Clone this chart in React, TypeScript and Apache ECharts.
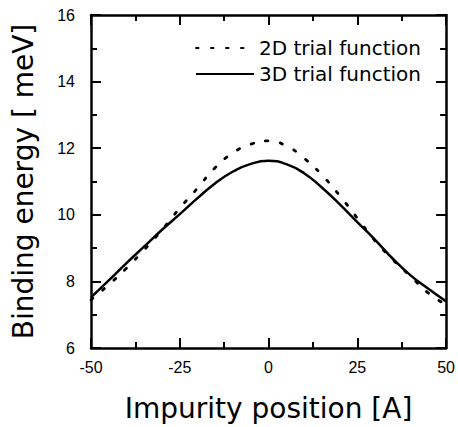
import React, { useEffect, useRef } from "react";
import * as echarts from "echarts";

const positions = [-50, -45, -40, -35, -30, -25, -20, -15, -10, -5, 0, 5, 10, 15, 20, 25, 30, 35, 40, 45, 50];
const trial2D = [7.45, 7.9, 8.4, 8.95, 9.55, 10.2, 10.8, 11.42, 11.86, 12.12, 12.22, 12.07, 11.7, 11.2, 10.58, 9.9, 9.22, 8.65, 8.15, 7.65, 7.3];
const trial3D = [7.52, 8.03, 8.55, 9.05, 9.55, 10.02, 10.5, 10.95, 11.3, 11.53, 11.62, 11.52, 11.25, 10.82, 10.32, 9.78, 9.25, 8.68, 8.18, 7.78, 7.4];
const seriesNames = ["2D trial function", "3D trial function"];
const xTitle = "Impurity position [A]";
const yTitle = "Binding energy [ meV]";

export default function App() {
  const ref = useRef<HTMLDivElement>(null);
  useEffect(() => {
    if (!ref.current) return;
    const chart = echarts.init(ref.current, undefined, { renderer: "svg" });
    const axisLine = { show: true, onZero: false, lineStyle: { color: "#000", width: 2.5 } };
    const tick = { show: true, inside: true, length: 10, lineStyle: { color: "#000", width: 2 } };
    const minorTick = { show: true, splitNumber: 2, length: 6, lineStyle: { color: "#000", width: 2 } };
    const label = { color: "#000", fontFamily: "Liberation Sans", fontSize: 16 };
    chart.setOption({
      animation: false,
      backgroundColor: "#fff",
      grid: { left: 91, top: 15, right: 9, bottom: 75 },
      legend: {
        orient: "vertical",
        left: 190,
        top: 33,
        align: "left",
        itemWidth: 58,
        itemHeight: 14,
        itemGap: 6,
        itemStyle: { opacity: 0 },
        textStyle: { color: "#000", fontFamily: "DejaVu Sans", fontSize: 20 },
        data: seriesNames,
      },
      xAxis: [
        {
          type: "value",
          min: -50,
          max: 50,
          interval: 25,
          position: "bottom",
          axisLine,
          axisTick: tick,
          minorTick,
          splitLine: { show: false },
          axisLabel: { ...label, margin: 11 },
          name: xTitle,
          nameLocation: "middle",
          nameGap: 46,
          nameTextStyle: { color: "#000", fontFamily: "DejaVu Sans", fontSize: 28 },
        },
        {
          type: "value",
          min: -50,
          max: 50,
          interval: 25,
          position: "top",
          axisLine,
          axisTick: tick,
          minorTick,
          splitLine: { show: false },
          axisLabel: { show: false },
        },
      ],
      yAxis: [
        {
          type: "value",
          min: 6,
          max: 16,
          interval: 2,
          position: "left",
          axisLine,
          axisTick: tick,
          minorTick,
          splitLine: { show: false },
          axisLabel: { ...label, margin: 16 },
          name: yTitle,
          nameLocation: "middle",
          nameGap: 54,
          nameTextStyle: { color: "#000", fontFamily: "DejaVu Sans", fontSize: 28 },
        },
        {
          type: "value",
          min: 6,
          max: 16,
          interval: 2,
          position: "right",
          axisLine,
          axisTick: tick,
          minorTick,
          splitLine: { show: false },
          axisLabel: { show: false },
        },
      ],
      series: [
        {
          name: seriesNames[0],
          type: "line",
          smooth: 0.5,
          symbol: "none",
          data: positions.map((p, i) => [p, trial2D[i]]),
          lineStyle: { color: "#000", width: 2.8, type: [2.5, 12.5], cap: "round" },
          itemStyle: { color: "#000" },
        },
        {
          name: seriesNames[1],
          type: "line",
          smooth: 0.5,
          symbol: "none",
          data: positions.map((p, i) => [p, trial3D[i]]),
          lineStyle: { color: "#000", width: 2.5 },
          itemStyle: { color: "#000" },
        },
      ],
    });
    return () => chart.dispose();
  }, []);
  return <div ref={ref} style={{ width: 458, height: 427, position: "absolute", left: 0, top: 0 }} />;
}
